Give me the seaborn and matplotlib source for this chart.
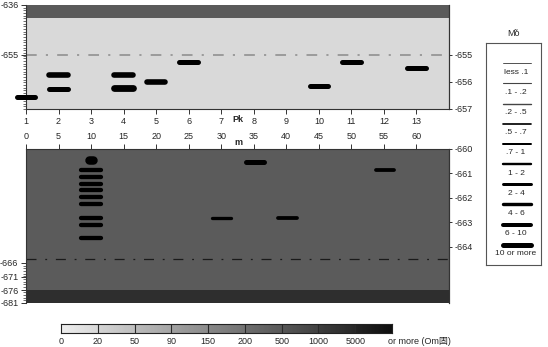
import matplotlib
matplotlib.use('Agg')

import matplotlib.pyplot as plt
import numpy as np
import pandas as pd
import seaborn as sns

sns.set_style("white")
plt.rcParams['font.family'] = ['Liberation Sans', 'Noto Sans CJK SC', 'DejaVu Sans']

# upper section (Pk stations), depth read on right-hand scale
pk_x = [1, 2, 2, 4, 4, 5, 6, 10, 11, 13]
pk_y = [-656.56, -655.74, -656.25, -655.74, -656.22, -656.0, -655.25, -656.15, -655.25, -655.49]
pk_grade = [6, 7, 6, 7, 8, 7, 6, 6, 6, 6]
pk_ticks = list(range(1, 14))

# lower section (m), depth read on right-hand scale
m_x = [10, 10, 10, 10, 10, 10, 10, 10, 10, 10, 30, 35.2, 40.2, 55.2]
m_y = [-660.45, -660.87, -661.14, -661.42, -661.69, -661.97, -662.24, -662.82, -663.10, -663.64,
       -662.83, -660.53, -662.83, -660.87]
m_grade = [9, 5, 5, 5, 5, 5, 5, 5, 5, 5, 3, 6, 4, 4]
m_half = [0.3, 1.52, 1.52, 1.52, 1.52, 1.52, 1.52, 1.52, 1.52, 1.52, 1.44, 1.44, 1.47, 1.41]
m_ticks = list(range(0, 61, 5))

# legend classes
mo_labels = ['less .1', '.1 - .2', '.2 - .5', '.5 - .7', '.7 - 1', '1 - 2', '2 - 4', '4 - 6', '6 - 10', '10 or more']
bar_px = [1.5, 2.0, 2.5, 3.3, 3.8, 4.3, 5.0, 5.6, 6.8, 8.5]
leg_px = [0.9, 1.1, 1.4, 1.7, 2.0, 2.4, 3.0, 3.4, 4.0, 5.0]

# colour scale
cb_labels = ['0', '20', '50', '90', '150', '200', '500', '1000', '5000']
cb_gray = [0.90, 0.80, 0.70, 0.60, 0.50, 0.40, 0.31, 0.21, 0.11]

# left-hand scale labels
top_left_labels = ['-636', '-655']
bot_left_labels = ['-666', '-671', '-676', '-681']
bot_left_pos = [-664.65, -665.22, -665.76, -666.29]

TOP_LIM = (-657, -653.15)
BOT_LIM = (-666.29, -660)
tick_fs = 6.5
spine_c = '#333333'


def segments(xs, ys, grades, halves):
    rows = []
    for i, (x, y, g, h) in enumerate(zip(xs, ys, grades, halves)):
        rows.append(dict(bar=i, x=x - h, y=y, grade=g))
        rows.append(dict(bar=i, x=x + h, y=y, grade=g))
    return pd.DataFrame(rows)


sizes = {g: bar_px[g] * 0.72 for g in range(10)}

fig = plt.figure(figsize=(5.48, 3.47), dpi=100)
ax_top = fig.add_axes([26 / 548, 1 - 109 / 347, 423 / 548, 104 / 347])
ax_bot = fig.add_axes([26 / 548, 1 - 303 / 347, 423 / 548, 154 / 347])
ax_leg = fig.add_axes([486 / 548, 1 - 265 / 347, 55 / 548, 222 / 347])
ax_cb = fig.add_axes([61 / 548, 1 - 333 / 347, 331 / 548, 9 / 347])

# ---- top panel
ax_top.set_facecolor('#d9d9d9')
ax_top.axhspan(-653.63, TOP_LIM[1], color='#5a5a5a', lw=0)
ax_top.axhline(-655, color='#8a8a8a', lw=1.1, ls=(0, (7, 6, 1.4, 6)))
df_top = segments(pk_x, pk_y, pk_grade, [0.285] * len(pk_x))
sns.lineplot(data=df_top, x='x', y='y', units='bar', estimator=None, size='grade',
             sizes=sizes, color='black', legend=False, sort=False, ax=ax_top,
             solid_capstyle='round', clip_on=False, zorder=5)
ax_top.set_xlim(1, 14)
ax_top.set_ylim(*TOP_LIM)
ax_top.set_xlabel('')
ax_top.set_ylabel('')
ax_top.set_xticks(pk_ticks)
ax_top.set_xticklabels([str(t) for t in pk_ticks], fontsize=tick_fs)
ax_top.set_yticks([TOP_LIM[1], -655])
ax_top.set_yticklabels(top_left_labels, fontsize=tick_fs)
ax_top.set_yticks(np.linspace(-657, TOP_LIM[1], 40), minor=True)
ax_top.tick_params(axis='both', which='major', direction='out', length=3.5, width=0.7,
                   color=spine_c, pad=2, left=True, bottom=True)
ax_top.tick_params(axis='y', which='minor', direction='out', length=2, width=0.5,
                   color=spine_c, left=True)
for s in ax_top.spines.values():
    s.set_color(spine_c)
    s.set_linewidth(0.8)
ax_top.spines['top'].set_visible(False)
ax_top.annotate('Pk', xy=(7.5, 0), xycoords=('data', 'axes fraction'), xytext=(0, -4.5),
                textcoords='offset points', ha='center', va='top', fontsize=6.5, fontweight='bold')

ax_top_r = ax_top.twinx()
ax_top_r.set_ylim(*TOP_LIM)
ax_top_r.set_yticks([-655, -656, -657])
ax_top_r.set_yticklabels(['-655', '-656', '-657'], fontsize=tick_fs)
ax_top_r.tick_params(axis='y', direction='out', length=2.5, width=0.7, color=spine_c, pad=1.5, right=True)
for k, s in ax_top_r.spines.items():
    s.set_visible(k == 'right')
    s.set_color(spine_c)
    s.set_linewidth(0.8)

# ---- bottom panel
ax_bot.set_facecolor('#5b5b5b')
ax_bot.axhspan(BOT_LIM[0], -665.76, color='#2e2e2e', lw=0)
ax_bot.axhline(-664.49, color='#1a1a1a', lw=0.9, ls=(0, (8, 7, 1.5, 7)))
df_bot = segments(m_x, m_y, m_grade, m_half)
sns.lineplot(data=df_bot, x='x', y='y', units='bar', estimator=None, size='grade',
             sizes=sizes, color='black', legend=False, sort=False, ax=ax_bot,
             solid_capstyle='round', zorder=5)
ax_bot.set_xlim(0, 65)
ax_bot.set_ylim(*BOT_LIM)
ax_bot.set_xlabel('')
ax_bot.set_ylabel('')
ax_bot.xaxis.tick_top()
ax_bot.set_xticks(m_ticks)
ax_bot.set_xticklabels([str(t) for t in m_ticks], fontsize=tick_fs)
ax_bot.set_yticks(bot_left_pos)
ax_bot.set_yticklabels(bot_left_labels, fontsize=tick_fs)
ax_bot.set_yticks(np.linspace(bot_left_pos[0], bot_left_pos[-1], 16), minor=True)
ax_bot.tick_params(axis='both', which='major', direction='out', length=3.5, width=0.7,
                   color=spine_c, pad=2, left=True, top=True)
ax_bot.tick_params(axis='y', which='minor', direction='out', length=2, width=0.5,
                   color=spine_c, left=True)
for s in ax_bot.spines.values():
    s.set_color(spine_c)
    s.set_linewidth(0.8)
ax_bot.spines['bottom'].set_visible(False)
ax_bot.annotate('m', xy=(32.7, 1), xycoords=('data', 'axes fraction'), xytext=(0, 5),
                textcoords='offset points', ha='center', va='center', fontsize=6.5, fontweight='bold')

ax_bot_r = ax_bot.twinx()
ax_bot_r.set_ylim(*BOT_LIM)
ax_bot_r.set_yticks([-660, -661, -662, -663, -664])
ax_bot_r.set_yticklabels(['-660', '-661', '-662', '-663', '-664'], fontsize=tick_fs)
ax_bot_r.tick_params(axis='y', direction='out', length=2.5, width=0.7, color=spine_c, pad=1.5, right=True)
for k, s in ax_bot_r.spines.items():
    s.set_visible(k == 'right')
    s.set_color(spine_c)
    s.set_linewidth(0.8)

# ---- legend box
ax_leg.set_xlim(0, 1)
ax_leg.set_ylim(len(mo_labels), -1.0)
ax_leg.set_xticks([])
ax_leg.set_yticks([])
for s in ax_leg.spines.values():
    s.set_color('#555555')
    s.set_linewidth(0.8)
for i, (lab, px) in enumerate(zip(mo_labels, leg_px)):
    c = '#444444' if i < 3 else 'black'
    ax_leg.plot([0.30, 0.81], [i, i], color=c, lw=px * 0.72, solid_capstyle='round')
    ax_leg.text(0.545, i + 0.45, lab, ha='center', va='center', fontsize=6)
fig.text(513 / 548, 1 - 33 / 347, 'M\u0303o', ha='center', va='center', fontsize=6.5)

# ---- colour scale
nseg = len(cb_gray)
grad = np.concatenate([np.linspace(g + 0.03, g - 0.05, 30) for g in cb_gray])[None, :]
ax_cb.imshow(grad, cmap='gray', vmin=0, vmax=1, aspect='auto', extent=(0, nseg, 0, 1))
for b in range(1, nseg):
    ax_cb.axvline(b, color='#2a2a2a', lw=0.8)
ax_cb.set_xlim(0, nseg)
ax_cb.set_ylim(0, 1)
ax_cb.set_yticks([])
ax_cb.set_xticks(range(nseg))
ax_cb.set_xticklabels(cb_labels, fontsize=tick_fs)
ax_cb.tick_params(axis='x', length=0, pad=3, bottom=True)
for s in ax_cb.spines.values():
    s.set_color('#222222')
    s.set_linewidth(0.8)
ax_cb.text(nseg - 0.1, -0.45, 'or more (Om\u56fa)', ha='left', va='top', fontsize=tick_fs, clip_on=False)

fig.savefig('out.png', dpi=100)
